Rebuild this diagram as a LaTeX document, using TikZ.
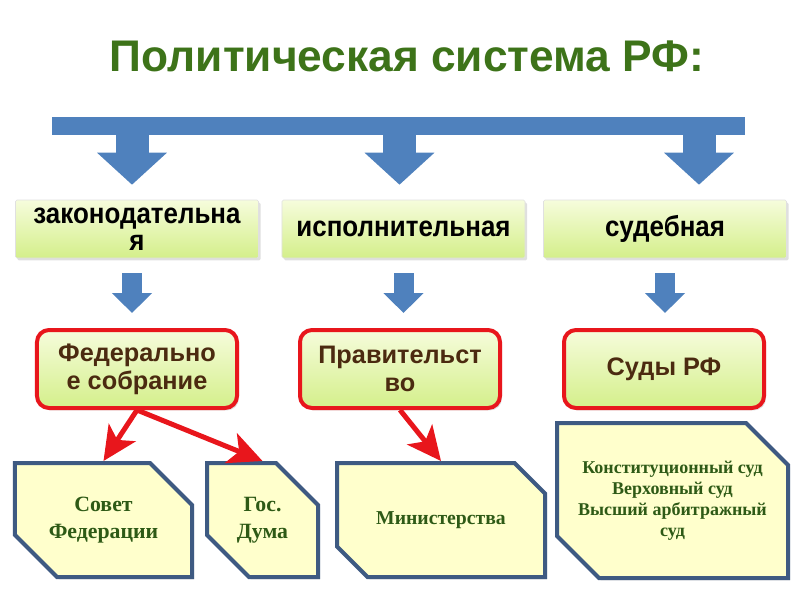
\documentclass[tikz,border=0pt]{standalone}
\usepackage{fontspec}
\setmainfont{Liberation Serif}
\newfontfamily\headfont{Liberation Sans}
\newfontfamily\branchfont[FakeStretch=0.9]{Liberation Sans}
\usetikzlibrary{shapes.misc, arrows.meta, positioning, calc, shadows}
\definecolor{barblue}{RGB}{79,129,189}
\definecolor{titlegreen}{RGB}{61,115,25}
\definecolor{boxtop}{RGB}{246,252,220}
\definecolor{boxbottom}{RGB}{212,239,138}
\definecolor{organred}{RGB}{232,22,28}
\definecolor{organtext}{RGB}{75,42,16}
\definecolor{bodyfill}{RGB}{255,255,204}
\definecolor{bodyline}{RGB}{62,90,130}
\definecolor{bodytext}{RGB}{46,90,22}

\begin{document}
\begin{tikzpicture}[
        x=0.25mm, y=-0.25mm,
        softshadow/.style={drop shadow={opacity=0.25, shadow xshift=0.5mm, shadow yshift=-0.6mm}},
        branch/.style={draw=black!12, top color=boxtop, bottom color=boxbottom, rounded corners=1pt, softshadow,
            minimum width=60.75mm, minimum height=14.5mm, inner sep=0pt, align=center,
            font=\branchfont\bfseries\fontsize{20.5}{19.5}\selectfont},
        organ/.style={draw=organred, line width=1mm, top color=boxtop, bottom color=boxbottom, rounded corners=3mm, softshadow,
            minimum width=50mm, minimum height=19.5mm, inner sep=0pt, align=center, text=organtext,
            font=\headfont\bfseries\fontsize{18}{20}\selectfont},
        body/.style={chamfered rectangle, chamfered rectangle corners={north east, south west},
            chamfered rectangle xsep=5mm, chamfered rectangle ysep=5.5mm,
            draw=bodyline, line width=1mm, fill=bodyfill, softshadow,
            minimum height=28.5mm, inner sep=0pt, align=center, text=bodytext,
            font=\rmfamily\bfseries\fontsize{15.5}{19}\selectfont},
        bigarr/.style={barblue, line width=8.25mm, -{Triangle[length=8mm, width=17mm]}, shorten >=3.75mm},
        smallarr/.style={barblue, line width=5mm, -{Triangle[length=5mm, width=9.75mm]}, shorten <=3.75mm, shorten >=3.75mm},
        redarr/.style={organred, line width=1.25mm, -{Stealth[length=8.5mm, width=8mm, inset=2.2mm]}}
    ]
    \useasboundingbox (0,0) rectangle (800,600);

    \node[text=titlegreen, font=\headfont\bfseries\fontsize{31.5}{36}\selectfont] (title) at (407,56) {Политическая система РФ:};
    \node[fill=barblue, minimum width=173.25mm, minimum height=4.5mm, inner sep=0pt] (bar) at (398.5,126) {};

    % branches of power
    \node[branch] (leg) at (137,229) {законодательна\\я};
    \node[branch] (exe) at (403.5,229) {исполнительная};
    \node[branch] (jud) at (665,229) {судебная};

    % bodies
    \node[organ] (fed) at (137,369) {Федерально\\е собрание};
    \node[organ] (gov) at (400,369) {Правительст\\во};
    \node[organ] (crt) at (664,369) {Суды РФ};

    \node[body, minimum width=44.25mm] (sf) at (103.5,520) {Совет\\Федерации};
    \node[body, minimum width=27.75mm] (gd) at (262.5,520) {Гос.\\Дума};
    \node[body, minimum width=52mm, font=\rmfamily\bfseries\fontsize{14}{17}\selectfont] (min) at (441,520) {Министерства};
    \node[body, minimum width=57.75mm, minimum height=38.75mm,
        font=\rmfamily\bfseries\fontsize{12.8}{15}\selectfont] (sudy) at (672.5,500.5)
        {Конституционный суд\\Верховный суд\\Высший арбитражный\\суд};

    \foreach \b/\dx in {leg/-5, exe/-4, jud/34}
        \draw[bigarr] ($(bar.south -| \b.north)+(\dx,0)$) -- ($(\b.north)+(\dx,0)$);
    \foreach \b/\o/\dx in {leg/fed/-5, exe/gov/0, jud/crt/0}
        \draw[smallarr] ($(\b.south)+(\dx,0)$) -- ($(\b.south |- \o.north)+(\dx,0)$);

    \draw[redarr] (fed.south) -- (sf.north);
    \draw[redarr] (fed.south) -- (gd.north);
    \draw[redarr] (gov.south) -- (min.north);
\end{tikzpicture}
\end{document}
